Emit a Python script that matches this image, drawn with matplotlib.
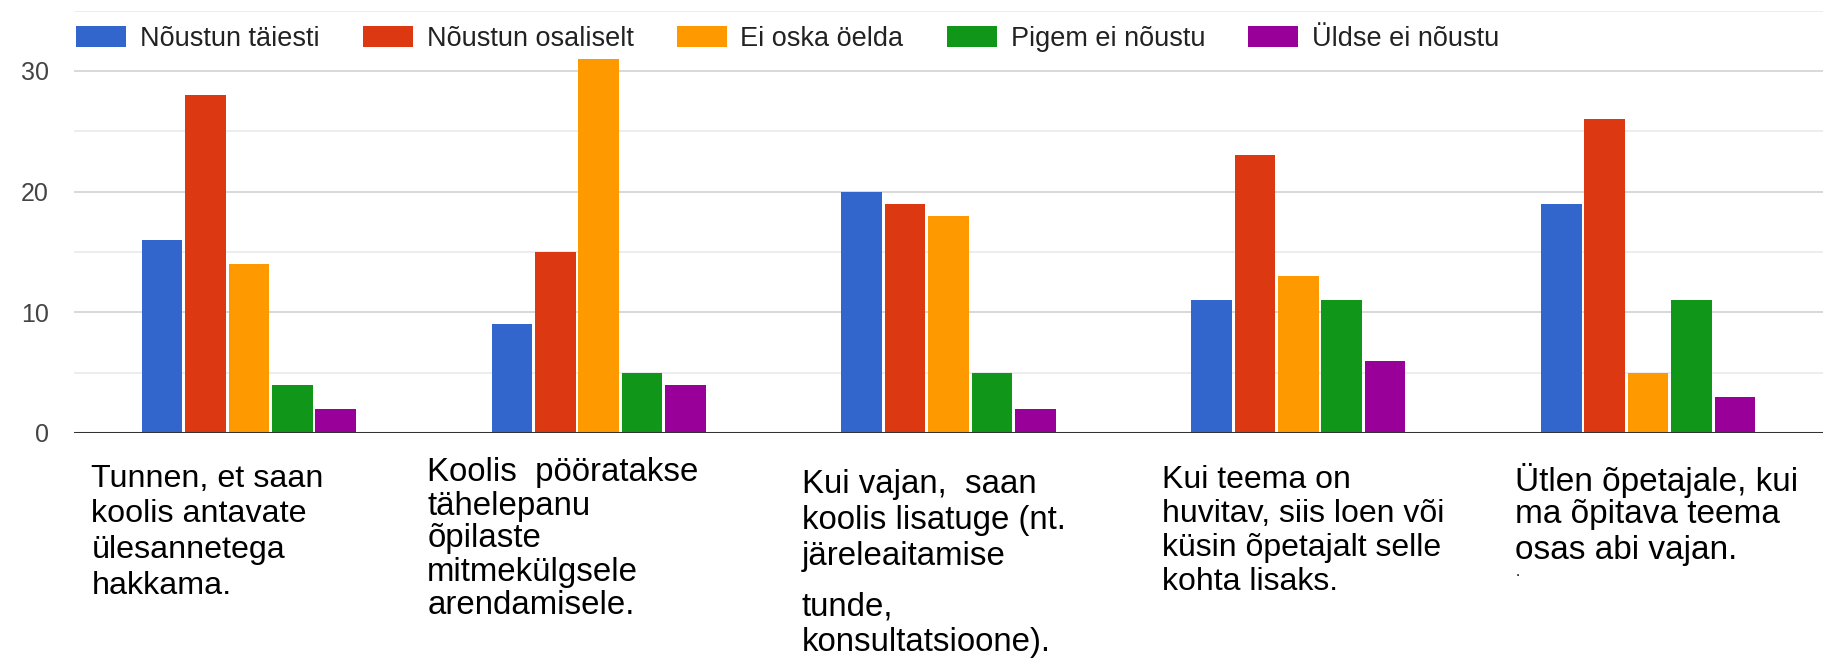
import matplotlib
matplotlib.use("Agg")
import matplotlib.pyplot as plt
from matplotlib.patches import Patch
from matplotlib.ticker import MultipleLocator

# ---- data ----
category_lines = [
    ["Tunnen, et saan", "koolis antavate", "ülesannetega", "hakkama."],
    ["Koolis  pööratakse", "tähelepanu", "õpilaste", "mitmekülgsele", "arendamisele."],
    ["Kui vajan,  saan", "koolis lisatuge (nt.", "järeleaitamise", "tunde,", "konsultatsioone)."],
    ["Kui teema on", "huvitav, siis loen või", "küsin õpetajalt selle", "kohta lisaks."],
    ["Ütlen õpetajale, kui", "ma õpitava teema", "osas abi vajan."],
]
series_names = ["Nõustun täiesti", "Nõustun osaliselt", "Ei oska öelda",
                "Pigem ei nõustu", "Üldse ei nõustu"]
noustun_taiesti = [16, 9, 20, 11, 19]
noustun_osaliselt = [28, 15, 19, 23, 26]
ei_oska_oelda = [14, 31, 18, 13, 5]
pigem_ei_noustu = [4, 5, 5, 11, 11]
uldse_ei_noustu = [2, 4, 2, 6, 3]
yticks = [0, 10, 20, 30]

series = [noustun_taiesti, noustun_osaliselt, ei_oska_oelda,
          pigem_ei_noustu, uldse_ei_noustu]
colors = ["#3366cc", "#dc3912", "#ff9900", "#109618", "#990099"]

plt.rcParams['font.family'] = ['Liberation Sans', 'DejaVu Sans']

W, H = 1823, 662
fig = plt.figure(figsize=(W / 100, H / 100), dpi=100)
ax_left, ax_right = 74 / W, 1.0
ax_top, ax_bot = 10.5, 433
ax = fig.add_axes([ax_left, 1 - ax_bot / H, ax_right - ax_left, (ax_bot - ax_top) / H])

n = len(category_lines)
pitch = 0.124
bw = 0.116
for k, (vals, c) in enumerate(zip(series, colors)):
    xs = [i + (k - 2) * pitch for i in range(n)]
    ax.bar(xs, vals, width=bw, color=c, zorder=3)

ax.set_xlim(-0.5, n - 0.5)
ax.set_ylim(0, 35)
ax.set_yticks(yticks)
ax.yaxis.set_minor_locator(MultipleLocator(5))
ax.grid(axis='y', which='major', color='#d6d6d6', linewidth=1.3, zorder=0)
ax.grid(axis='y', which='minor', color='#ececec', linewidth=1.3, zorder=0)
ax.axhline(0, color='#333333', linewidth=2.2, zorder=4)
for s in ax.spines.values():
    s.set_visible(False)
ax.set_xticks([])
ax.tick_params(axis='y', which='both', length=0, pad=18, labelsize=18, labelcolor='#444444')

# category labels (left-aligned blocks under each group)
x_offsets = [-0.45, -0.49, -0.42, -0.39, -0.38]
first_line_px = [479, 473, 484, 480, 480]
line_pitch_px = [35.5, 33, 36, 34, 35]
label_sizes = [23.2, 23.8, 23.8, 23, 24]
axh = ax_bot - ax_top
for i, lines in enumerate(category_lines):
    y = first_line_px[i]
    for j, line in enumerate(lines):
        if i == 2 and j == 3:
            y += 15
        ax.text(i + x_offsets[i], (ax_bot - y) / axh, line,
                transform=ax.get_xaxis_transform(), ha='left', va='center',
                fontsize=label_sizes[i], color='black', clip_on=False)
        y += line_pitch_px[i]

# small stray mark under the last label (present in the original)
ax.text(4 + x_offsets[4], (ax_bot - 576) / axh, ".",
        transform=ax.get_xaxis_transform(), ha='left', va='baseline',
        fontsize=11, color='black', clip_on=False)

F = 19.5
fpx = F * 100 / 72
handles = [Patch(facecolor=c, edgecolor='none') for c in colors]
leg = fig.legend(handles, series_names, loc='center left',
                 bbox_to_anchor=(76 / W, 1 - 39 / H), ncol=5, frameon=False,
                 fontsize=F, handlelength=50 / fpx, handleheight=22 / fpx,
                 handletextpad=14 / fpx, columnspacing=43 / fpx, borderpad=0,
                 borderaxespad=0)
for t in leg.get_texts():
    t.set_color('#222222')

fig.savefig("out.png", dpi=100, facecolor='white')
